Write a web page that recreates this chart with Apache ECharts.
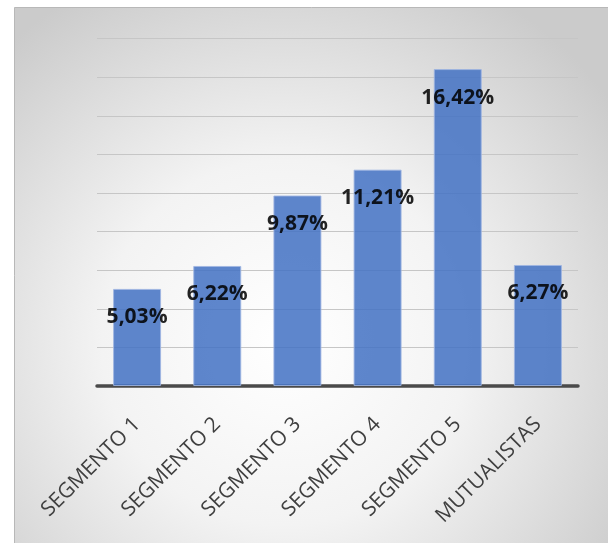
<!DOCTYPE html>
<html>
<head>
<meta charset="utf-8">
<script src="https://cdn.jsdelivr.net/npm/echarts@6/dist/echarts.min.js"></script>
<style>
  html, body { margin: 0; padding: 0; background: #fff; }
  #main { width: 608px; height: 543px; }
</style>
</head>
<body>
<div id="main"></div>
<script>
    // categorias y valores (%)
    var categories = ['SEGMENTO 1', 'SEGMENTO 2', 'SEGMENTO 3', 'SEGMENTO 4', 'SEGMENTO 5', 'MUTUALISTAS'];
    var values = [5.03, 6.22, 9.87, 11.21, 16.42, 6.27];

    var myChart = echarts.init(document.getElementById('main'));
    myChart.setOption({
        animation: false,
        graphic: [{
            type: 'rect',
            z: -10,
            silent: true,
            shape: {x: 14.5, y: 7.5, width: 600, height: 540},
            style: {
                fill: new echarts.graphic.RadialGradient(0.45, 0.62, 0.75, [
                    {offset: 0, color: '#ffffff'},
                    {offset: 0.45, color: '#f3f3f3'},
                    {offset: 1, color: '#cbcbcb'}
                ]),
                stroke: '#b8b8b8',
                lineWidth: 1
            }
        }],
        grid: {
            left: 97,
            right: 30,
            top: 38.6,
            bottom: 157
        },
        xAxis: {
            type: 'category',
            data: categories,
            axisTick: {show: false},
            axisLine: {
                lineStyle: {color: '#4a4a4a', width: 3.5}
            },
            axisLabel: {
                rotate: 45,
                margin: 35,
                fontFamily: 'Open Sans',
                fontSize: 21,
                color: '#404040'
            }
        },
        yAxis: {
            type: 'value',
            min: 0,
            max: 18,
            interval: 2,
            axisLabel: {show: false},
            axisLine: {show: false},
            axisTick: {show: false},
            splitLine: {
                lineStyle: {color: '#c6c6c6', width: 1.2}
            }
        },
        series: [{
            type: 'bar',
            data: values,
            barWidth: 48,
            itemStyle: {
                color: '#4472c4',
                opacity: 0.86,
                borderColor: '#9fb6e2',
                borderWidth: 1
            },
            label: {
                show: true,
                position: 'insideTop',
                distance: 18,
                fontFamily: 'Open Sans',
                fontWeight: 'bold',
                fontSize: 21,
                color: '#000',
                formatter: function (p) {
                    return p.value.toFixed(2).replace('.', ',') + '%';
                }
            }
        }]
    });
</script>
</body>
</html>
